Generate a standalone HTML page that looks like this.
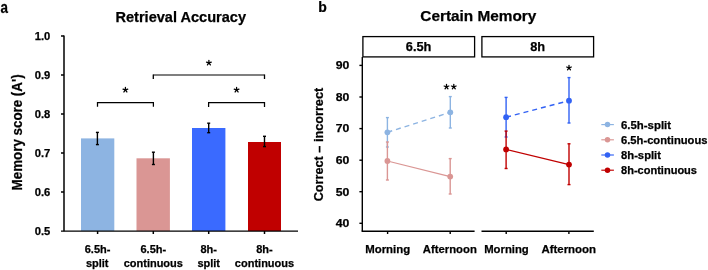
<!DOCTYPE html>
<html><head><meta charset="utf-8">
<style>
html,body{margin:0;padding:0;background:#fff;width:708px;height:270px;overflow:hidden}
svg{display:block}
text{font-family:"Liberation Sans",sans-serif;font-weight:bold;fill:#000;stroke:#000;stroke-width:0.25px}
.r{font-weight:normal}
</style></head><body>
<svg style="will-change:transform" width="708" height="270" viewBox="0 0 708 270">
<defs><path id="st" d="M0,0L0,-2.5M0,0L2.38,-0.77M0,0L1.47,2.02M0,0L-1.47,2.02M0,0L-2.38,-0.77" stroke="#000" stroke-width="1.25" stroke-linecap="round" fill="none"/></defs>
<!-- panel letters -->
<text transform="translate(0.6,13.0) scale(0.84,1)" font-size="16">a</text>
<text transform="translate(318.2,12.3) scale(0.9,1)" font-size="15.5">b</text>

<!-- ===== LEFT CHART ===== -->
<text x="115.5" y="21.6" font-size="15" textLength="130.5" lengthAdjust="spacingAndGlyphs">Retrieval Accuracy</text>

<!-- y axis -->
<g stroke="#000" stroke-width="1.5" fill="none">
<line x1="64" y1="35.5" x2="64" y2="231.25"/>
<line x1="61" y1="36" x2="64" y2="36"/>
<line x1="61" y1="75" x2="64" y2="75"/>
<line x1="61" y1="114" x2="64" y2="114"/>
<line x1="61" y1="153" x2="64" y2="153"/>
<line x1="61" y1="192" x2="64" y2="192"/>
</g>
<!-- bars -->
<rect x="81" y="138.4" width="33.3" height="92.6" fill="#8DB4E2"/>
<rect x="136.5" y="158.3" width="33.4" height="72.7" fill="#DA9694"/>
<rect x="192" y="128" width="33.4" height="103" fill="#3A6AFF"/>
<rect x="248" y="142" width="33" height="89" fill="#C00000"/>
<!-- baseline -->
<g stroke="#000" stroke-width="1.5" fill="none">
<line x1="61" y1="231.2" x2="298" y2="231.2" stroke-width="1.3"/>
<line x1="97.6" y1="231" x2="97.6" y2="234"/>
<line x1="153.3" y1="231" x2="153.3" y2="234"/>
<line x1="208.7" y1="231" x2="208.7" y2="234"/>
<line x1="264.5" y1="231" x2="264.5" y2="234"/>
</g>
<!-- error bars -->
<g stroke="#000" stroke-width="1.4" fill="none">
<line x1="97.4" y1="132.4" x2="97.4" y2="144.6"/><line x1="95.9" y1="132.4" x2="98.9" y2="132.4"/><line x1="95.9" y1="144.6" x2="98.9" y2="144.6"/>
<line x1="153.4" y1="152.2" x2="153.4" y2="164.5"/><line x1="151.9" y1="152.2" x2="154.9" y2="152.2"/><line x1="151.9" y1="164.5" x2="154.9" y2="164.5"/>
<line x1="208.7" y1="123.2" x2="208.7" y2="132.7"/><line x1="207.2" y1="123.2" x2="210.2" y2="123.2"/><line x1="207.2" y1="132.7" x2="210.2" y2="132.7"/>
<line x1="264.5" y1="136.3" x2="264.5" y2="146.6"/><line x1="263" y1="136.3" x2="266" y2="136.3"/><line x1="263" y1="146.6" x2="266" y2="146.6"/>
</g>
<!-- brackets -->
<g stroke="#000" stroke-width="1.3" fill="none">
<polyline points="97.5,106.8 97.5,102.5 153.4,102.5 153.4,106.8" stroke-width="1.25"/>
<line x1="153.3" y1="74.5" x2="153.3" y2="79"/><line x1="264.5" y1="74.5" x2="264.5" y2="79"/>
<line x1="153.3" y1="75" x2="264.5" y2="75" stroke-width="1.1"/>
<polyline points="208.6,107 208.6,102.6 264.5,102.6 264.5,107" stroke-width="1.25"/>
</g>
<use href="#st" x="125.4" y="89.95"/>
<use href="#st" x="208.9" y="62.85"/>
<use href="#st" x="236.6" y="89.95"/>

<!-- y tick labels -->
<g font-size="10.5" text-anchor="end">
<text x="50.3" y="39.6" textLength="15.6" lengthAdjust="spacingAndGlyphs">1.0</text>
<text x="50.3" y="78.6" textLength="15.6" lengthAdjust="spacingAndGlyphs">0.9</text>
<text x="50.3" y="117.6" textLength="15.6" lengthAdjust="spacingAndGlyphs">0.8</text>
<text x="50.3" y="156.6" textLength="15.6" lengthAdjust="spacingAndGlyphs">0.7</text>
<text x="50.3" y="195.6" textLength="15.6" lengthAdjust="spacingAndGlyphs">0.6</text>
<text x="50.3" y="234.6" textLength="15.6" lengthAdjust="spacingAndGlyphs">0.5</text>
</g>
<!-- y title -->
<text transform="translate(22,190.4) rotate(-90)" font-size="14" textLength="116" lengthAdjust="spacingAndGlyphs">Memory score (A')</text>

<!-- x labels -->
<g font-size="11" text-anchor="middle">
<text x="97.6" y="252.6">6.5h-</text><text x="97.2" y="266.6">split</text>
<text x="153.3" y="252.6">6.5h-</text><text x="153.3" y="266.6">continuous</text>
<text x="208.7" y="252.6">8h-</text><text x="208.7" y="266.6">split</text>
<text x="264.5" y="252.6">8h-</text><text x="264.5" y="266.6">continuous</text>
</g>

<!-- ===== RIGHT CHART ===== -->
<text x="420.3" y="21.2" font-size="15" textLength="116" lengthAdjust="spacingAndGlyphs">Certain Memory</text>
<!-- strips -->
<g stroke="#000" stroke-width="1.3" fill="none">
<rect x="362.9" y="36.6" width="111.7" height="20.3"/>
<rect x="481.9" y="36.6" width="111.7" height="20.3"/>
</g>
<text x="418.6" y="51.4" font-size="12.8" text-anchor="middle">6.5h</text>
<text x="537.7" y="51.4" font-size="12.8" text-anchor="middle">8h</text>
<!-- axes -->
<g stroke="#000" stroke-width="1.4" fill="none">
<line x1="362.3" y1="57" x2="362.3" y2="231.2"/>
<line x1="359.4" y1="65.4" x2="362.3" y2="65.4"/>
<line x1="359.4" y1="97" x2="362.3" y2="97"/>
<line x1="359.4" y1="128.6" x2="362.3" y2="128.6"/>
<line x1="359.4" y1="160.2" x2="362.3" y2="160.2"/>
<line x1="359.4" y1="191.7" x2="362.3" y2="191.7"/>
<line x1="359.4" y1="223.3" x2="362.3" y2="223.3"/>
<line x1="361.6" y1="231.2" x2="474.6" y2="231.2"/>
<line x1="481.5" y1="231.2" x2="593.8" y2="231.2"/>
<line x1="387.6" y1="231" x2="387.6" y2="234"/>
<line x1="450.2" y1="231" x2="450.2" y2="234"/>
<line x1="506.2" y1="231" x2="506.2" y2="234"/>
<line x1="568.9" y1="231" x2="568.9" y2="234"/>
</g>
<g font-size="10.5" text-anchor="end">
<text x="349.3" y="69.2" textLength="13.6" lengthAdjust="spacingAndGlyphs">90</text>
<text x="349.3" y="100.8" textLength="13.6" lengthAdjust="spacingAndGlyphs">80</text>
<text x="349.3" y="132.4" textLength="13.6" lengthAdjust="spacingAndGlyphs">70</text>
<text x="349.3" y="164" textLength="13.6" lengthAdjust="spacingAndGlyphs">60</text>
<text x="349.3" y="195.5" textLength="13.6" lengthAdjust="spacingAndGlyphs">50</text>
<text x="349.3" y="227.1" textLength="13.6" lengthAdjust="spacingAndGlyphs">40</text>
</g>
<text transform="translate(323,201.3) rotate(-90)" font-size="13.5" textLength="113.5" lengthAdjust="spacingAndGlyphs">Correct – incorrect</text>
<g font-size="11">
<text x="365.2" y="252.9" textLength="45" lengthAdjust="spacingAndGlyphs">Morning</text>
<text x="422.8" y="252.9" textLength="54" lengthAdjust="spacingAndGlyphs">Afternoon</text>
<text x="484.2" y="252.9" textLength="44.6" lengthAdjust="spacingAndGlyphs">Morning</text>
<text x="541.4" y="252.9" textLength="54.7" lengthAdjust="spacingAndGlyphs">Afternoon</text>
</g>

<!-- data: light blue (6.5h split) -->
<g stroke="#8DB4E2" stroke-width="1.4" fill="none">
<line x1="387.4" y1="117.6" x2="387.4" y2="147"/><line x1="385.9" y1="117.6" x2="388.9" y2="117.6"/><line x1="385.9" y1="147" x2="388.9" y2="147"/>
<line x1="450.3" y1="96.6" x2="450.3" y2="128"/><line x1="448.8" y1="96.6" x2="451.8" y2="96.6"/><line x1="448.8" y1="128" x2="451.8" y2="128"/>
<line x1="387.4" y1="132.3" x2="450.3" y2="112.3" stroke-width="1.45" stroke-dasharray="5,4"/>
</g>
<g fill="#8DB4E2"><circle cx="387.4" cy="132.3" r="2.9"/><circle cx="450.3" cy="112.3" r="2.9"/></g>
<!-- pink (6.5h cont) -->
<g stroke="#DA9694" stroke-width="1.4" fill="none">
<line x1="387.4" y1="142" x2="387.4" y2="180"/><line x1="385.9" y1="142" x2="388.9" y2="142"/><line x1="385.9" y1="180" x2="388.9" y2="180"/>
<line x1="450.2" y1="158.6" x2="450.2" y2="194"/><line x1="448.7" y1="158.6" x2="451.7" y2="158.6"/><line x1="448.7" y1="194" x2="451.7" y2="194"/>
<line x1="387.4" y1="161" x2="450.2" y2="176.6" stroke-width="1.2"/>
</g>
<g fill="#DA9694"><circle cx="387.4" cy="161" r="2.9"/><circle cx="450.2" cy="176.6" r="2.9"/></g>
<!-- blue (8h split) -->
<g stroke="#3262F4" stroke-width="1.4" fill="none">
<line x1="506.1" y1="97.4" x2="506.1" y2="137"/><line x1="504.6" y1="97.4" x2="507.6" y2="97.4"/><line x1="504.6" y1="137" x2="507.6" y2="137"/>
<line x1="569" y1="77.6" x2="569" y2="123"/><line x1="567.5" y1="77.6" x2="570.5" y2="77.6"/><line x1="567.5" y1="123" x2="570.5" y2="123"/>
<line x1="506.1" y1="117.2" x2="569" y2="100.7" stroke-width="1.45" stroke-dasharray="5,4"/>
</g>
<g fill="#3262F4"><circle cx="506.1" cy="117.2" r="2.9"/><circle cx="569" cy="100.7" r="2.9"/></g>
<!-- red (8h cont) -->
<g stroke="#C00000" stroke-width="1.4" fill="none">
<line x1="506.1" y1="131.1" x2="506.1" y2="168.5"/><line x1="504.6" y1="131.1" x2="507.6" y2="131.1"/><line x1="504.6" y1="168.5" x2="507.6" y2="168.5"/>
<line x1="569" y1="143.8" x2="569" y2="184.6"/><line x1="567.5" y1="143.8" x2="570.5" y2="143.8"/><line x1="567.5" y1="184.6" x2="570.5" y2="184.6"/>
<line x1="506.1" y1="149.4" x2="569" y2="164.6" stroke-width="1.2"/>
</g>
<g fill="#C00000"><circle cx="506.1" cy="149.4" r="2.9"/><circle cx="569" cy="164.6" r="2.9"/></g>
<use href="#st" x="446.5" y="86.8"/>
<use href="#st" x="453.8" y="86.8"/>
<use href="#st" x="569" y="67.8"/>

<!-- legend -->
<g stroke-width="1.15">
<line x1="601.3" y1="124.6" x2="613.9" y2="124.6" stroke="#8DB4E2"/><circle cx="607.5" cy="124.6" r="2.75" fill="#8DB4E2"/>
<line x1="601.3" y1="139.8" x2="613.9" y2="139.8" stroke="#DA9694"/><circle cx="607.5" cy="139.8" r="2.75" fill="#DA9694"/>
<line x1="601.3" y1="155" x2="613.9" y2="155" stroke="#3262F4"/><circle cx="607.5" cy="155" r="2.75" fill="#3262F4"/>
<line x1="601.3" y1="170.2" x2="613.9" y2="170.2" stroke="#C00000"/><circle cx="607.5" cy="170.2" r="2.75" fill="#C00000"/>
</g>
<g font-size="10.5">
<text x="621" y="128.5" textLength="50" lengthAdjust="spacingAndGlyphs">6.5h-split</text>
<text x="621" y="143.7" textLength="86.5" lengthAdjust="spacingAndGlyphs">6.5h-continuous</text>
<text x="621" y="158.9" textLength="40" lengthAdjust="spacingAndGlyphs">8h-split</text>
<text x="621" y="174.1" textLength="76" lengthAdjust="spacingAndGlyphs">8h-continuous</text>
</g>
</svg>
</body></html>
